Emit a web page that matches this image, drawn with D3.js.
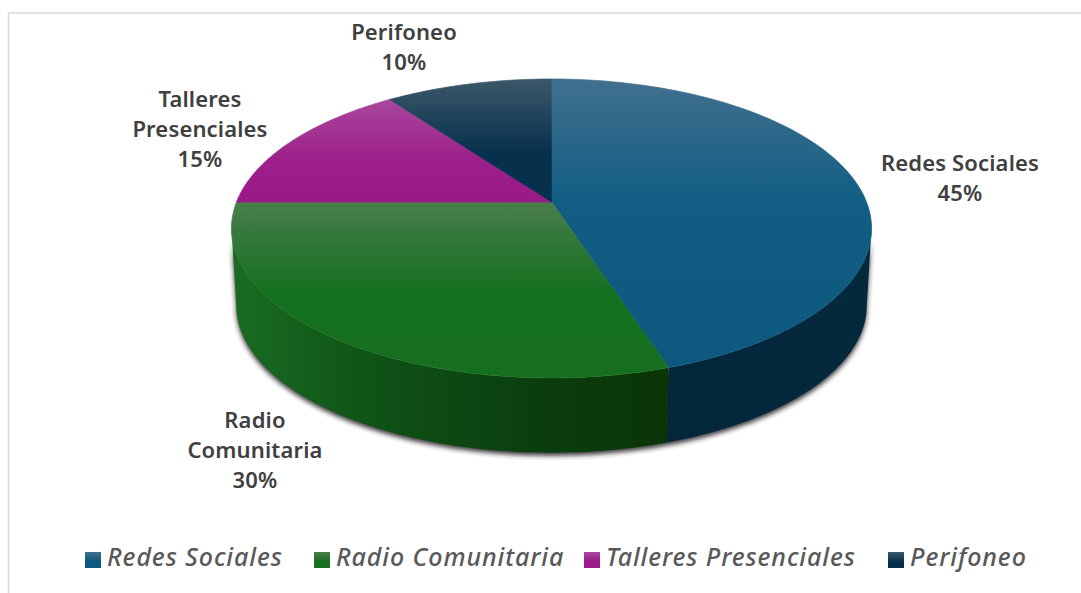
<!DOCTYPE html>
<html><head><meta charset="utf-8">
<script src="https://cdn.jsdelivr.net/npm/d3@7"></script>
<style>html,body{margin:0;padding:0;background:#fff}svg{display:block}</style>
</head><body>
<svg id="c" width="1081" height="593"></svg>
<script>
const categories = ["Redes Sociales","Radio Comunitaria","Talleres Presenciales","Perifoneo"];
const shares = [45,30,15,10];
const labelLines = [["Redes Sociales"],["Radio","Comunitaria"],["Talleres","Presenciales"],["Perifoneo"]];
const topLight = ["#41708f","#4a7d4d","#a9479c","#3c5869"];
const topMid = ["#115d83","#14701f","#9c1f8a","#07304d"];
const topDark = ["#0d587e","#166f1e","#9a1a88","#052f4c"];
const sideStops = [["#04283c","#03263a"],["#0a3506","#0b3f10","#0f5216","#1a6c22"]];

const W=1081,H=593;
const svg=d3.select("#c");
const defs=svg.append("defs");
const cx=551.5,y0=202,rx=315,ry=144.8,k=0.177,depth=77,shrink=0.985;
const FONT='"Noto Sans","Open Sans",sans-serif';

// frame
svg.append("path").attr("d",`M${W},13H8.5V${H}`).attr("fill","none").attr("stroke","#d9d9d9").attr("stroke-width",1.6);

const pie=d3.pie().sort(null).value(d=>d);
const arcs=pie(shares);
const proj=(t,s=1,dy=0)=>{
  const u=Math.sin(t),v=-Math.cos(t),d=1-k*v;
  return [cx+s*rx*u/d, y0+dy+s*ry*v/d+(1-s)*26];
};
const line=d3.line();
const samp=(a,b,n=120)=>d3.range(n+1).map(i=>a+(b-a)*i/n);
const visA=Math.acos(-k), visB=2*Math.PI-visA;

defs.append("filter").attr("id","sh").attr("x","-10%").attr("y","-10%").attr("width","120%").attr("height","120%")
  .append("feGaussianBlur").attr("stdDeviation",2.4);

arcs.forEach((a,i)=>{
  const top=samp(a.startAngle,a.endAngle).map(t=>proj(t));
  const ys=top.map(p=>p[1]).concat(y0);
  const y1=d3.min(ys),y2=d3.max(ys);
  const g=defs.append("linearGradient").attr("id","t"+i).attr("gradientUnits","userSpaceOnUse")
    .attr("x1",0).attr("x2",0).attr("y1",y1).attr("y2",y2);
  const stopMid=i===0?0.43:i===1?0.5:0.6;
  g.append("stop").attr("offset",0).attr("stop-color",topLight[i]);
  g.append("stop").attr("offset",stopMid).attr("stop-color",topMid[i]);
  g.append("stop").attr("offset",1).attr("stop-color",topDark[i]);
});

// soft shadow behind the wall
const wallAngles=samp(visA,visB,200);
const outline=wallAngles.map(t=>proj(t)).concat(wallAngles.slice().reverse().map(t=>proj(t,shrink,depth)));
svg.append("path").attr("d",line(outline)+"Z").attr("fill","#222").attr("opacity",.9)
  .attr("filter","url(#sh)").attr("transform","translate(0,3)");
// side wall
arcs.forEach((a,i)=>{
  const s=Math.max(a.startAngle,visA),e=Math.min(a.endAngle,visB);
  if(e<=s) return;
  const ang=samp(s,e);
  const pts=ang.map(t=>proj(t)).concat(ang.slice().reverse().map(t=>proj(t,shrink,depth)));
  const xs=pts.map(p=>p[0]);
  const g=defs.append("linearGradient").attr("id","w"+i).attr("gradientUnits","userSpaceOnUse")
    .attr("x1",d3.max(xs)).attr("x2",d3.min(xs)).attr("y1",0).attr("y2",0);
  const st=sideStops[i];
  st.forEach((c,j)=>g.append("stop").attr("offset",j/(st.length-1)).attr("stop-color",c));
  svg.append("path").attr("d",line(pts)+"Z").attr("fill",`url(#w${i})`);
});

// top face
arcs.forEach((a,i)=>{
  const pts=[[cx,y0]].concat(samp(a.startAngle,a.endAngle).map(t=>proj(t)));
  svg.append("path").attr("d",line(pts)+"Z").attr("fill",`url(#t${i})`)
    .attr("stroke",`url(#t${i})`).attr("stroke-width",.7).attr("stroke-linejoin","round");
});

// data labels
const labelAnchors=[[960,171],[255,428],[200,107],[404,40]];
labelLines.forEach((lines,i)=>{
  const t=svg.append("text").attr("text-anchor","middle").attr("font-family",FONT)
    .attr("font-weight",600).attr("font-size",22).attr("letter-spacing",.15).attr("fill","#404040");
  lines.concat([shares[i]+"%"]).forEach((s,j)=>{
    t.append("tspan").attr("x",labelAnchors[i][0]).attr("y",labelAnchors[i][1]+j*30).text(s);
  });
});

// legend
const legendX=[85,314,584,888];
categories.forEach((c,i)=>{
  const g=svg.append("g").attr("transform",`translate(${legendX[i]},0)`);
  g.append("rect").attr("x",0).attr("y",552).attr("width",16).attr("height",16).attr("fill",`url(#lg${i})`);
  const lg=defs.append("linearGradient").attr("id","lg"+i).attr("x1",0).attr("x2",0).attr("y1",0).attr("y2",1);
  lg.append("stop").attr("offset",0).attr("stop-color",topLight[i]);
  lg.append("stop").attr("offset",.6).attr("stop-color",topDark[i]);
  g.append("text").attr("x",22).attr("y",566).attr("font-family",FONT).attr("font-style","italic").attr("font-weight",500)
    .attr("font-size",25).attr("fill","#595959").attr("letter-spacing",.9).text(c);
});
</script>
</body></html>
